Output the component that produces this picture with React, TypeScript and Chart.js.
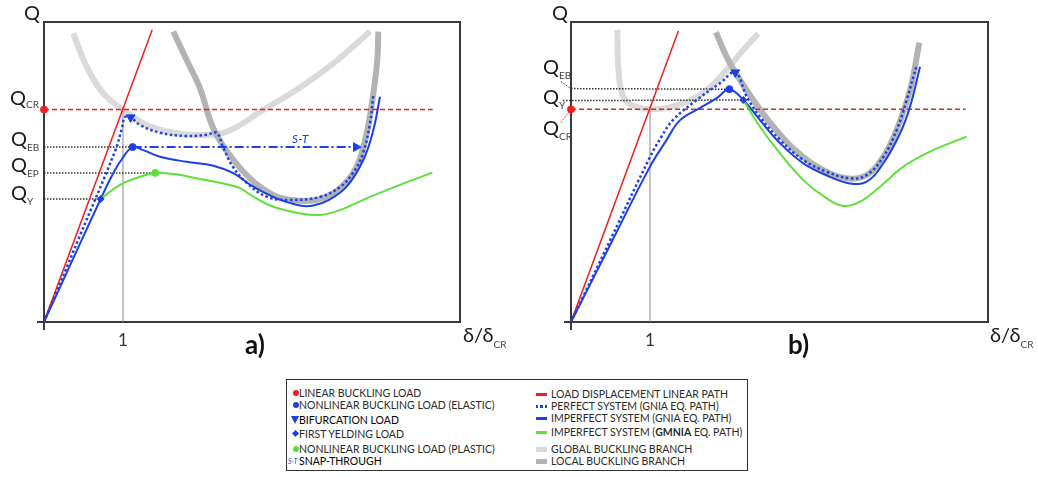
import React, { useEffect, useRef } from "react";
import { Chart, registerables } from "chart.js";

Chart.register(...registerables);

// ---------- colours ----------
const RED = "#f01e1e";
const BLUE = "#1c3fe6";
const GREEN = "#5fe03a";
const GLOBAL_GRAY = "#dadada";
const LOCAL_GRAY = "#b3b3b3";
const AXIS = "#3a3a3a";
const REF_DOT = "#333333";
const FONT = "Lato";

// ---------- panel a) data  (x = δ/δcr, y = Q in % of panel height) ----------
const A_X_MAX = 5.266;
const A_Q_CR = 70.8;
const A_Q_EB = 58.3;
const A_Q_EP = 49.7;
const A_Q_Y = 41.0;
const A_LINEAR_PATH = [[0, 0], [1.37, 97.4]];
const A_PERFECT_GNIA = [
  [0, 0], [0.45, 28.5], [0.9, 57], [0.985, 64.5], [1.025, 68.3], [1.097, 68.2],
  [1.215, 65.7], [1.468, 63.1], [1.806, 62.0], [2.059, 62.4], [2.186, 63.1],
  [2.266, 58.3], [2.392, 51.7], [2.57, 46.3], [2.823, 41.7], [3.114, 40.7],
  [3.494, 41.7], [3.747, 45.0], [3.911, 49.7], [4.038, 56.3], [4.127, 66.3], [4.169, 75.7],
];
const A_IMPERFECT_GNIA = [
  [0, 0], [0.36, 20.6], [0.717, 41.0], [0.878, 49.7], [1.004, 55.0], [1.122, 58.3],
  [1.257, 57.3], [1.468, 55.1], [1.806, 53.4], [2.143, 52.1], [2.397, 49.6],
  [2.65, 45.1], [2.945, 41.2], [3.241, 38.8], [3.409, 38.8], [3.62, 40.9],
  [3.831, 45.1], [4.042, 54.0], [4.169, 64.0], [4.253, 75.1],
];
const A_IMPERFECT_GMNIA = [
  [0.717, 41.0], [0.962, 45.7], [1.215, 48.4], [1.409, 49.7], [1.637, 49.3],
  [1.975, 47.7], [2.312, 45.9], [2.481, 44.6], [2.65, 41.8], [2.903, 38.4],
  [3.241, 36.2], [3.494, 35.7], [3.747, 37.3], [4.084, 41.2], [4.506, 45.7], [4.916, 49.8],
];
const A_GLOBAL_BRANCH = [
  [0.371, 96.2], [0.54, 85.1], [0.751, 76.2], [1.004, 70.7], [1.3, 65.7], [1.637, 63.1],
  [1.975, 62.3], [2.312, 63.4], [2.776, 70.7], [3.241, 78.2], [3.662, 86.2], [4.127, 96.8],
];
const A_LOCAL_BRANCH = [
  [1.637, 96.8], [1.806, 87.3], [1.975, 77.9], [2.143, 64.6], [2.397, 54.0], [2.65, 46.8],
  [2.903, 42.3], [3.114, 40.7], [3.451, 40.7], [3.747, 44.6], [3.958, 51.8],
  [4.084, 62.9], [4.169, 76.2], [4.219, 87.3], [4.232, 96.8],
];
const A_CR_END = 4.92;
const A_EB_POINT = [1.122, 58.3];
const A_EP_POINT = [1.409, 49.7];
const A_Y_POINT = [0.717, 41.0];
const A_BIFURCATION = [1.097, 68.2];
const A_SNAP_END = [3.95, 58.3];

// ---------- panel b) data ----------
const B_X_MAX = 5.278;
const B_Q_CR = 70.9;
const B_Q_EB = 77.8;
const B_Q_Y = 73.8;
const B_LINEAR_PATH = [[0, 0], [1.359, 97.0]];
const B_PERFECT_GNIA = [
  [0, 0], [0.5, 27.5], [1.0, 55.0], [1.15, 62.0], [1.29, 67.3], [1.59, 74.0],
  [1.886, 79.6], [2.08, 83.2], [2.224, 75.1], [2.392, 68.4], [2.646, 60.7],
  [2.941, 54.0], [3.236, 50.1], [3.532, 47.9], [3.743, 49.0], [3.954, 55.1],
  [4.122, 64.0], [4.249, 74.0], [4.376, 85.7],
];
const B_IMPERFECT_GNIA = [
  [0, 0], [0.5, 25.9], [1.0, 51.8], [1.211, 60.7], [1.38, 67.3], [1.63, 71.3],
  [1.85, 74.7], [2.004, 77.6], [2.181, 74.0], [2.392, 67.3], [2.646, 59.6],
  [2.941, 52.9], [3.278, 48.4], [3.532, 46.2], [3.743, 46.8], [3.954, 52.9],
  [4.165, 62.9], [4.291, 71.8], [4.418, 85.1],
];
const B_IMPERFECT_GMNIA = [
  [2.181, 74.0], [2.392, 65.1], [2.646, 56.2], [2.941, 47.3], [3.236, 41.2],
  [3.447, 38.7], [3.658, 40.1], [3.911, 45.1], [4.207, 51.8], [4.544, 56.8], [5.008, 61.8],
];
const B_GLOBAL_BRANCH = [
  [0.586, 97.3], [0.599, 85.1], [0.662, 75.1], [0.831, 71.6], [1.169, 71.2],
  [1.464, 73.4], [1.717, 77.3], [1.97, 84.0], [2.181, 90.7], [2.371, 96.2],
];
const B_LOCAL_BRANCH = [
  [1.835, 96.6], [1.97, 88.4], [2.139, 80.7], [2.308, 74.0], [2.561, 65.1],
  [2.857, 56.8], [3.152, 51.2], [3.489, 47.9], [3.743, 49.0], [3.954, 55.1],
  [4.122, 64.0], [4.291, 77.3], [4.409, 93.1],
];
const B_CR_END = 4.996;
const B_EB_POINT = [2.004, 77.6];
const B_Y_POINT = [2.181, 74.0];
const B_BIFURCATION = [2.08, 83.2];

// ---------- legend entries ----------
const LEGEND_LEFT = [
  { kind: "circle", color: RED, text: "LINEAR BUCKLING LOAD", y: 13 },
  { kind: "circle", color: BLUE, text: "NONLINEAR BUCKLING LOAD (ELASTIC)", y: 25 },
  { kind: "triangle", color: BLUE, text: "BIFURCATION LOAD", y: 40, dark: true },
  { kind: "diamond", color: BLUE, text: "FIRST YELDING LOAD", y: 54 },
  { kind: "circle", color: GREEN, text: "NONLINEAR BUCKLING LOAD (PLASTIC)", y: 69 },
  { kind: "st", color: BLUE, text: "SNAP-THROUGH", y: 81, dark: true },
];
const LEGEND_RIGHT = [
  { kind: "line", color: RED, text: "LOAD DISPLACEMENT LINEAR PATH", y: 14 },
  { kind: "dots", color: BLUE, text: "PERFECT SYSTEM (GNIA EQ. PATH)", y: 26 },
  { kind: "line", color: BLUE, text: "IMPERFECT SYSTEM (GNIA EQ. PATH)", y: 38 },
  { kind: "line", color: GREEN, text: "IMPERFECT SYSTEM (", bold: "GMNIA", tail: " EQ. PATH)", y: 52 },
  { kind: "band", color: GLOBAL_GRAY, text: "GLOBAL BUCKLING BRANCH", y: 69 },
  { kind: "band", color: LOCAL_GRAY, text: "LOCAL BUCKLING BRANCH", y: 81 },
];

// ---------- helpers ----------
const toPts = (a: number[][]) => a.map(([x, y]) => ({ x, y }));

const lineDs = (data: number[][], color: string, width: number, order: number, extra: any = {}) => ({
  data: toPts(data),
  showLine: true,
  borderColor: color,
  backgroundColor: color,
  borderWidth: width,
  pointRadius: 0,
  tension: 0.4,
  fill: false,
  order,
  ...extra,
});

const markerDs = (pt: number[], color: string, style: string, radius: number, rotation = 0) => ({
  data: toPts([pt]),
  showLine: false,
  pointStyle: style,
  pointRadius: radius,
  pointRotation: rotation,
  pointBackgroundColor: color,
  pointBorderColor: color,
  pointBorderWidth: 1,
  order: 0,
  clip: false,
});

function drawQ(ctx: CanvasRenderingContext2D, x: number, base: number, sub: string, subDy = 5) {
  ctx.fillStyle = "#1a1a1a";
  ctx.font = `20px ${FONT}`;
  ctx.textBaseline = "alphabetic";
  ctx.textAlign = "left";
  ctx.fillText("Q", x, base);
  const w = ctx.measureText("Q").width;
  if (sub) {
    ctx.fillStyle = "#444";
    ctx.font = `10px ${FONT}`;
    ctx.fillText(sub, x + w, base + subDy);
  }
}

function drawDelta(ctx: CanvasRenderingContext2D, x: number, base: number) {
  ctx.fillStyle = "#1a1a1a";
  ctx.font = `20px ${FONT}`;
  ctx.textAlign = "left";
  ctx.textBaseline = "alphabetic";
  ctx.fillText("δ/δ", x, base);
  const w = ctx.measureText("δ/δ").width;
  ctx.fillStyle = "#444";
  ctx.font = `10px ${FONT}`;
  ctx.fillText("CR", x + w, base + 6);
}

function baseOptions(xMax: number, leftW: number, rightW: number): any {
  const border = { display: true, color: AXIS, width: 2 };
  return {
    animation: false,
    responsive: false,
    events: [],
    layout: { padding: 0 },
    plugins: { legend: { display: false }, tooltip: { enabled: false } },
    scales: {
      x: {
        type: "linear",
        position: "bottom",
        min: 0,
        max: xMax,
        afterBuildTicks: (s: any) => { s.ticks = [{ value: 0 }, { value: 1 }]; },
        afterFit: (s: any) => { s.height = 38; },
        ticks: {
          callback: (v: number) => (v === 1 ? "1" : ""),
          font: { size: 17, family: FONT },
          color: "#333",
          padding: 0,
          autoSkip: false,
          maxRotation: 0,
        },
        grid: {
          display: true,
          drawOnChartArea: false,
          tickLength: 8,
          lineWidth: 2,
          color: (c: any) => (c.tick && c.tick.value === 0 ? AXIS : "rgba(0,0,0,0)"),
        },
        border,
      },
      y: {
        type: "linear",
        position: "left",
        min: 0,
        max: 100,
        afterBuildTicks: (s: any) => { s.ticks = [{ value: 0 }]; },
        afterFit: (s: any) => { s.width = leftW; },
        ticks: { display: false },
        grid: { display: true, drawOnChartArea: false, tickLength: 7, lineWidth: 2, color: AXIS },
        border,
      },
      x2: {
        type: "linear",
        position: "top",
        min: 0,
        max: xMax,
        afterFit: (s: any) => { s.height = 22; },
        ticks: { display: false },
        grid: { display: false },
        border,
      },
      y2: {
        type: "linear",
        position: "right",
        min: 0,
        max: 100,
        afterFit: (s: any) => { s.width = rightW; },
        ticks: { display: false },
        grid: { display: false },
        border,
      },
    },
  };
}

function panelA(): any {
  const datasets = [
    markerDs([0, A_Q_CR], RED, "circle", 3.5),
    markerDs(A_EB_POINT, BLUE, "circle", 3.5),
    markerDs(A_EP_POINT, GREEN, "circle", 3.5),
    markerDs(A_Y_POINT, BLUE, "rectRot", 3.5),
    markerDs(A_BIFURCATION, BLUE, "triangle", 5, 180),
    markerDs(A_SNAP_END, BLUE, "triangle", 5, 90),
    lineDs(A_IMPERFECT_GMNIA, GREEN, 2, 2),
    lineDs(A_IMPERFECT_GNIA, BLUE, 2, 2),
    lineDs(A_PERFECT_GNIA, BLUE, 2.5, 3, { borderDash: [2.5, 2.5] }),
    lineDs([A_EB_POINT, A_SNAP_END], BLUE, 2, 3, { borderDash: [9, 3, 2, 3], tension: 0 }),
    lineDs(A_LINEAR_PATH, RED, 1.5, 4, { tension: 0 }),
    lineDs([[0, A_Q_CR], [A_CR_END, A_Q_CR]], RED, 1.5, 4, { borderDash: [5, 3], tension: 0 }),
    lineDs([[0, A_Q_EB], A_EB_POINT], REF_DOT, 1.5, 5, { borderDash: [1.5, 1.5], tension: 0 }),
    lineDs([[0, A_Q_EP], A_EP_POINT], REF_DOT, 1.5, 5, { borderDash: [1.5, 1.5], tension: 0 }),
    lineDs([[0, A_Q_Y], A_Y_POINT], REF_DOT, 1.5, 5, { borderDash: [1.5, 1.5], tension: 0 }),
    lineDs([[1, 0], [1, A_Q_CR]], "#8a8a8a", 1, 5, { tension: 0 }),
    lineDs(A_LOCAL_BRANCH, LOCAL_GRAY, 6, 8),
    lineDs(A_GLOBAL_BRANCH, GLOBAL_GRAY, 6, 9),
  ];
  const labels = (chart: Chart) => {
    const ctx = chart.ctx;
    const y = chart.scales.y;
    const x = chart.scales.x;
    ctx.save();
    drawQ(ctx, 24, 20, "");
    drawQ(ctx, 10, y.getPixelForValue(A_Q_CR) - 5, "CR", 3);
    drawQ(ctx, 11, y.getPixelForValue(A_Q_EB) - 1, "EB");
    drawQ(ctx, 11, y.getPixelForValue(A_Q_EP) - 1, "EP");
    drawQ(ctx, 11, y.getPixelForValue(A_Q_Y) + 1, "Y");
    drawDelta(ctx, 463, 342);
    ctx.fillStyle = "#111";
    ctx.font = `bold 26px ${FONT}`;
    ctx.fillText("a)", 245, 354);
    ctx.fillStyle = BLUE;
    ctx.font = `italic 12px ${FONT}`;
    ctx.fillText("S-T", x.getPixelForValue(3.14), y.getPixelForValue(A_Q_EB) - 4);
    ctx.restore();
  };
  return { datasets, options: baseOptions(A_X_MAX, 44, 59), labels };
}

function panelB(): any {
  const datasets = [
    markerDs([0, B_Q_CR], RED, "circle", 3.5),
    markerDs(B_EB_POINT, BLUE, "circle", 3.5),
    markerDs(B_Y_POINT, BLUE, "rectRot", 3.5),
    markerDs(B_BIFURCATION, BLUE, "triangle", 5, 180),
    lineDs(B_IMPERFECT_GMNIA, GREEN, 2, 2),
    lineDs(B_IMPERFECT_GNIA, BLUE, 2, 2),
    lineDs(B_PERFECT_GNIA, BLUE, 2.5, 3, { borderDash: [2.5, 2.5] }),
    lineDs(B_LINEAR_PATH, RED, 1.5, 4, { tension: 0 }),
    lineDs([[0, B_Q_CR], [B_CR_END, B_Q_CR]], RED, 1.5, 4, { borderDash: [5, 3], tension: 0 }),
    lineDs([[0, B_Q_EB], B_EB_POINT], REF_DOT, 1.5, 5, { borderDash: [1.5, 1.5], tension: 0 }),
    lineDs([[-0.1, B_Q_Y], B_Y_POINT], REF_DOT, 1.5, 5, { borderDash: [1.5, 1.5], tension: 0, clip: false }),
    lineDs([[1, 0], [1, B_Q_CR]], "#8a8a8a", 1, 5, { tension: 0 }),
    lineDs(B_LOCAL_BRANCH, LOCAL_GRAY, 6, 8),
    lineDs(B_GLOBAL_BRANCH, GLOBAL_GRAY, 6, 9),
  ];
  const labels = (chart: Chart) => {
    const ctx = chart.ctx;
    const y = chart.scales.y;
    const left = chart.chartArea.left;
    ctx.save();
    drawQ(ctx, 33, 20, "");
    const yEB = y.getPixelForValue(B_Q_EB);
    const yY = y.getPixelForValue(B_Q_Y);
    const yCR = y.getPixelForValue(B_Q_CR);
    drawQ(ctx, 24, yEB - 15, "EB");
    drawQ(ctx, 24, yY + 3, "Y");
    drawQ(ctx, 24, yCR + 26, "CR");
    ctx.lineWidth = 1;
    ctx.setLineDash([1.5, 1.5]);
    ctx.strokeStyle = REF_DOT;
    ctx.beginPath();
    ctx.moveTo(left - 10, yEB - 7);
    ctx.lineTo(left, yEB);
    ctx.stroke();
    ctx.strokeStyle = RED;
    ctx.beginPath();
    ctx.moveTo(left - 10, yCR + 13);
    ctx.lineTo(left, yCR);
    ctx.stroke();
    ctx.setLineDash([]);
    drawDelta(ctx, 471, 342);
    ctx.fillStyle = "#111";
    ctx.font = `bold 26px ${FONT}`;
    ctx.fillText("b)", 269, 354);
    ctx.restore();
  };
  return { datasets, options: baseOptions(B_X_MAX, 52, 50), labels };
}

function Panel({ left, build }: { left: number; build: () => any }) {
  const ref = useRef<HTMLCanvasElement | null>(null);
  useEffect(() => {
    if (!ref.current) return;
    const spec = build();
    const chart = new Chart(ref.current, {
      type: "scatter",
      data: { datasets: spec.datasets },
      options: spec.options,
      plugins: [{ id: "panelLabels", afterDraw: (c: Chart) => spec.labels(c) }],
    } as any);
    return () => chart.destroy();
  }, []);
  return (
    <canvas
      ref={ref}
      width={519}
      height={360}
      style={{ position: "absolute", left, top: 0, width: 519, height: 360 }}
    />
  );
}

function LegendIcon({ kind, color }: { kind: string; color: string }) {
  const base: React.CSSProperties = { position: "absolute" };
  if (kind === "circle")
    return <span style={{ ...base, left: 5, top: 4, width: 6, height: 6, borderRadius: 3, background: color }} />;
  if (kind === "diamond")
    return <span style={{ ...base, left: 5, top: 4, width: 5, height: 5, background: color, transform: "rotate(45deg)" }} />;
  if (kind === "triangle")
    return (
      <span
        style={{
          ...base, left: 3, top: 3, width: 0, height: 0,
          borderLeft: "4.5px solid transparent", borderRight: "4.5px solid transparent",
          borderTop: `8px solid ${color}`,
        }}
      />
    );
  if (kind === "st")
    return (
      <span style={{ ...base, left: 0, top: 0, fontSize: 7, fontStyle: "italic", color, lineHeight: "14px" }}>S-T</span>
    );
  if (kind === "line")
    return <span style={{ ...base, left: 0, top: 6, width: 11, height: 2.5, background: color }} />;
  if (kind === "dots")
    return (
      <span style={{ ...base, left: 0, top: 6, width: 11, height: 2.5, display: "flex", gap: 2 }}>
        <span style={{ width: 2.5, height: 2.5, background: color }} />
        <span style={{ width: 2.5, height: 2.5, background: color }} />
        <span style={{ width: 2.5, height: 2.5, background: color }} />
      </span>
    );
  return <span style={{ ...base, left: 0, top: 4.5, width: 11, height: 5, background: color }} />;
}

function Legend() {
  const row = (e: any, iconLeft: number, textLeft: number, i: number) => (
    <div key={i} style={{ position: "absolute", left: iconLeft, top: e.y - 7, height: 14, width: 220 }}>
      <LegendIcon kind={e.kind} color={e.color} />
      <span
        style={{
          position: "absolute",
          left: textLeft - iconLeft,
          top: 0,
          lineHeight: "14px",
          fontSize: 10.5,
          whiteSpace: "nowrap",
          color: e.dark ? "#000" : "#2a2a2a",
        }}
      >
        {e.text}
        {e.bold ? <b>{e.bold}</b> : null}
        {e.tail || null}
      </span>
    </div>
  );
  return (
    <div
      style={{
        position: "absolute",
        left: 286,
        top: 379,
        width: 462,
        height: 92,
        boxSizing: "border-box",
        border: "1.5px solid #333",
        background: "#fff",
        fontFamily: FONT,
      }}
    >
      {LEGEND_LEFT.map((e, i) => row(e, 1, 12, i))}
      {LEGEND_RIGHT.map((e, i) => row(e, 249, 264, i + 10))}
    </div>
  );
}

export default function App() {
  return (
    <div
      style={{
        position: "fixed",
        left: 0,
        top: 0,
        width: 1038,
        height: 477,
        background: "#fff",
        overflow: "hidden",
      }}
    >
      <Panel left={0} build={panelA} />
      <Panel left={519} build={panelB} />
      <Legend />
    </div>
  );
}
